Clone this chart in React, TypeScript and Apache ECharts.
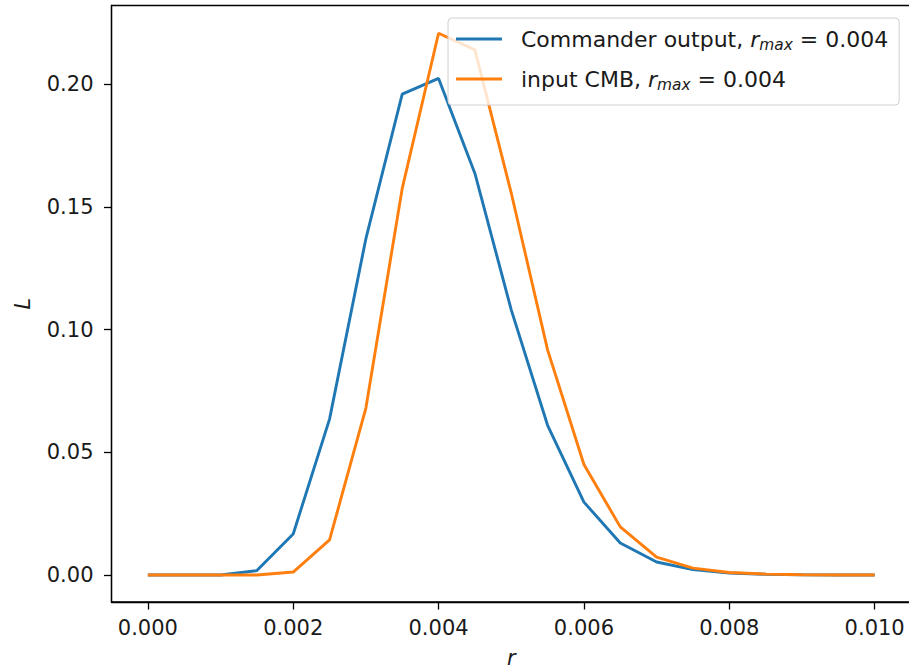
import React, { useEffect, useRef } from "react";
import * as echarts from "echarts";

const rValues = [
  0, 0.0005, 0.001, 0.0015, 0.002, 0.0025, 0.003, 0.0035, 0.004, 0.0045, 0.005,
  0.0055, 0.006, 0.0065, 0.007, 0.0075, 0.008, 0.0085, 0.009, 0.0095, 0.01,
];
const commanderL = [
  0, 0, 0, 0.0018, 0.0167, 0.0635, 0.137, 0.1959, 0.2023, 0.1636, 0.108,
  0.061, 0.0297, 0.013, 0.0053, 0.0022, 0.0008, 0.0003, 0.0001, 0, 0,
];
const inputCmbL = [
  0, 0, 0, 0, 0.0012, 0.0143, 0.068, 0.1575, 0.2207, 0.2139, 0.1556,
  0.0917, 0.045, 0.0196, 0.0073, 0.0028, 0.001, 0.0004, 0.0001, 0, 0,
];
const xTicks = [0, 0.002, 0.004, 0.006, 0.008, 0.01];
const yTicks = [0, 0.05, 0.1, 0.15, 0.2];
const seriesNames = ["Commander output", "input CMB"];
const rMaxLabel = "0.004";

const FONT = "DejaVu Sans";
const FS = 21;
const LFS = 22;
const TXT = "#1a1a1a";

export default function App() {
  const ref = useRef<HTMLDivElement>(null);
  useEffect(() => {
    const chart = echarts.init(ref.current!, null, { renderer: "svg" });
    const toPairs = (ys: number[]) => rValues.map((r, i) => [r, ys[i]]);
    chart.setOption({
      animation: false,
      textStyle: { fontFamily: FONT },
      grid: {
        left: 111.5,
        right: -2,
        top: 5.5,
        bottom: 66,
        outerBoundsMode: "none",
        containLabel: false,
        show: true,
        borderColor: "#000",
        borderWidth: 1.3,
        backgroundColor: "transparent",
      },
      legend: {
        show: true,
        orient: "vertical",
        left: 448,
        top: 18,
        padding: [8, 11, 13, 8],
        itemWidth: 46,
        itemHeight: 3,
        itemGap: 14,
        icon: "rect",
        backgroundColor: "rgba(255,255,255,0.8)",
        borderColor: "#d0d0d0",
        borderWidth: 1,
        borderRadius: 4,
        data: seriesNames,
        formatter: (name: string) =>
          `${name}, {i|r}{s|max}{n| = ${rMaxLabel}}`,
        textStyle: {
          fontFamily: FONT,
          fontSize: LFS,
          color: TXT,
          lineHeight: 26,
          padding: [0, 0, 0, 14],
          rich: {
            i: { fontFamily: FONT, fontSize: LFS, fontStyle: "italic", color: TXT, lineHeight: 26 },
            s: {
              fontFamily: FONT,
              fontSize: 15.4,
              fontStyle: "italic",
              color: TXT,
              lineHeight: 26,
              verticalAlign: "bottom",
              padding: [8, 0, 0, 0],
            },
            n: { fontFamily: FONT, fontSize: LFS, color: TXT, lineHeight: 26 },
          },
        },
      },
      xAxis: {
        type: "value",
        min: -0.0005,
        max: 0.0105,
        name: "r",
        nameLocation: "middle",
        nameGap: 45,
        nameTextStyle: { fontFamily: FONT, fontSize: FS, fontStyle: "italic", color: TXT },
        axisLine: { show: true, onZero: false, lineStyle: { color: "#000", width: 1.3 } },
        axisTick: {
          show: true,
          length: 7.5,
          lineStyle: { color: "#000", width: 1.3 },
          customValues: xTicks,
        },
        axisLabel: {
          show: true,
          margin: 15,
          fontFamily: FONT,
          fontSize: FS,
          color: TXT,
          customValues: xTicks,
          formatter: (v: number) => v.toFixed(3),
        },
        splitLine: { show: false },
      },
      yAxis: {
        type: "value",
        min: -0.011,
        max: 0.232,
        name: "L",
        nameLocation: "middle",
        nameGap: 78,
        nameRotate: 90,
        nameTextStyle: { fontFamily: FONT, fontSize: FS, fontStyle: "italic", color: TXT },
        axisLine: { show: true, onZero: false, lineStyle: { color: "#000", width: 1.3 } },
        axisTick: {
          show: true,
          length: 7.5,
          lineStyle: { color: "#000", width: 1.3 },
          customValues: yTicks,
        },
        axisLabel: {
          show: true,
          margin: 18,
          fontFamily: FONT,
          fontSize: FS,
          color: TXT,
          customValues: yTicks,
          formatter: (v: number) => v.toFixed(2),
        },
        splitLine: { show: false },
      },
      series: [
        {
          name: seriesNames[0],
          type: "line",
          data: toPairs(commanderL),
          showSymbol: false,
          symbol: "none",
          lineStyle: { color: "#1f77b4", width: 2.9 },
          itemStyle: { color: "#1f77b4" },
          clip: true,
        },
        {
          name: seriesNames[1],
          type: "line",
          data: toPairs(inputCmbL),
          showSymbol: false,
          symbol: "none",
          lineStyle: { color: "#ff7f0e", width: 2.9 },
          itemStyle: { color: "#ff7f0e" },
          clip: true,
        },
      ],
    });
    return () => chart.dispose();
  }, []);
  return (
    <div style={{ position: "fixed", left: 0, top: 0, width: 909, height: 668, overflow: "hidden", background: "#fff" }}>
      <div ref={ref} style={{ width: 909, height: 668 }} />
    </div>
  );
}
